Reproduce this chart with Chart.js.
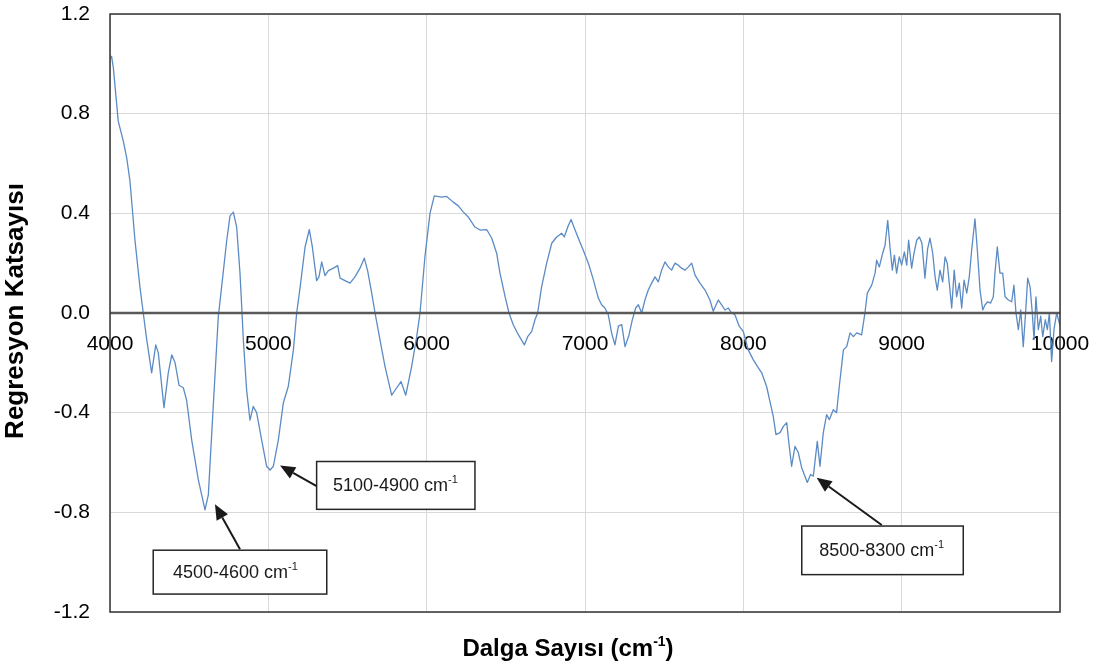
<!DOCTYPE html>
<html>
<head>
<meta charset="utf-8">
<script src="https://cdn.jsdelivr.net/npm/chart.js@4.4.1/dist/chart.umd.min.js"></script>
<style>
  html, body { margin: 0; padding: 0; background: #ffffff; }
  #wrap { width: 1106px; height: 668px; position: relative; }
</style>
</head>
<body>
<div id="wrap"><canvas id="c"></canvas></div>
<script>
// ---- Data ----
const wavenumbers = [
  4000, 4010, 4021, 4052, 4084, 4105, 4126, 4158, 4189, 4210,
  4232, 4263, 4289, 4305, 4341, 4368, 4390, 4411, 4436, 4463,
  4484, 4516, 4558, 4600, 4621, 4652, 4684, 4705, 4737, 4758,
  4779, 4800, 4821, 4832, 4842, 4863, 4884, 4905, 4926, 4958,
  4989, 5011, 5032, 5063, 5095, 5126, 5158, 5179, 5200, 5232,
  5259, 5278, 5305, 5320, 5337, 5358, 5379, 5411, 5438, 5453,
  5484, 5516, 5547, 5579, 5606, 5627, 5653, 5674, 5705, 5737,
  5779, 5800, 5838, 5868, 5905, 5937, 5958, 5989, 6021, 6048,
  6095, 6126, 6168, 6200, 6232, 6263, 6305, 6337, 6379, 6411,
  6442, 6463, 6495, 6520, 6547, 6579, 6617, 6638, 6663, 6684,
  6701, 6726, 6758, 6790, 6821, 6853, 6869, 6891, 6912, 6933,
  6958, 6989, 7021, 7053, 7084, 7105, 7126, 7147, 7168, 7189,
  7211, 7232, 7253, 7278, 7299, 7320, 7337, 7358, 7379, 7400,
  7421, 7442, 7463, 7484, 7505, 7526, 7547, 7568, 7589, 7610,
  7632, 7653, 7674, 7695, 7726, 7758, 7789, 7810, 7842, 7863,
  7884, 7905, 7926, 7947, 7974, 8000, 8031, 8063, 8095, 8116,
  8147, 8168, 8189, 8206, 8232, 8253, 8274, 8290, 8305, 8326,
  8347, 8368, 8389, 8404, 8425, 8442, 8467, 8484, 8505, 8526,
  8543, 8568, 8589, 8606, 8632, 8653, 8674, 8695, 8716, 8747,
  8768, 8783, 8811, 8832, 8842, 8859, 8880, 8895, 8912, 8926,
  8941, 8954, 8968, 8985, 9000, 9017, 9032, 9044, 9063, 9078,
  9095, 9112, 9128, 9147, 9164, 9179, 9196, 9211, 9225, 9242,
  9259, 9274, 9288, 9305, 9316, 9332, 9347, 9364, 9379, 9394,
  9411, 9427, 9442, 9463, 9478, 9495, 9512, 9526, 9543, 9562,
  9579, 9589, 9604, 9621, 9638, 9653, 9674, 9695, 9709, 9722,
  9737, 9752, 9768, 9783, 9796, 9811, 9825, 9836, 9848, 9863,
  9878, 9891, 9907, 9920, 9933, 9947, 9962, 9979, 10000
];
const coefficients = [
  1.02, 1.03, 0.985, 0.77, 0.69, 0.625, 0.53, 0.29, 0.105, 0.0,
  -0.107, -0.24, -0.128, -0.16, -0.38, -0.24, -0.168, -0.2, -0.29, -0.3,
  -0.35, -0.51, -0.67, -0.79, -0.73, -0.375, -0.015, 0.105, 0.29, 0.39,
  0.405, 0.345, 0.16, 0.025, -0.107, -0.31, -0.43, -0.375, -0.4, -0.51,
  -0.615, -0.63, -0.615, -0.51, -0.36, -0.295, -0.15, 0.0, 0.1, 0.265,
  0.335, 0.265, 0.13, 0.145, 0.205, 0.15, 0.17, 0.18, 0.19, 0.14,
  0.13, 0.12, 0.145, 0.18, 0.22, 0.17, 0.08, 0.0, -0.107, -0.215,
  -0.33, -0.31, -0.275, -0.33, -0.215, -0.095, 0.0, 0.225, 0.4, 0.47,
  0.465, 0.468, 0.445, 0.43, 0.405, 0.385, 0.345, 0.333, 0.335, 0.3,
  0.24, 0.16, 0.067, 0.0, -0.047, -0.087, -0.128, -0.095, -0.075, -0.027,
  0.0, 0.105, 0.2, 0.28, 0.305, 0.32, 0.305, 0.345, 0.375, 0.34,
  0.3, 0.252, 0.2, 0.133, 0.06, 0.033, 0.02, -0.007, -0.08, -0.128,
  -0.053, -0.047, -0.135, -0.088, -0.027, 0.02, 0.033, 0.0, 0.053, 0.093,
  0.12, 0.145, 0.125, 0.172, 0.205, 0.185, 0.172, 0.2, 0.192, 0.18,
  0.172, 0.185, 0.2, 0.152, 0.12, 0.092, 0.052, 0.007, 0.052, 0.033,
  0.012, 0.02, 0.0, -0.007, -0.053, -0.075, -0.148, -0.188, -0.22, -0.24,
  -0.295, -0.355, -0.415, -0.488, -0.48, -0.455, -0.44, -0.535, -0.615, -0.535,
  -0.56, -0.62, -0.655, -0.68, -0.648, -0.655, -0.515, -0.615, -0.48, -0.408,
  -0.428, -0.388, -0.4, -0.295, -0.148, -0.135, -0.08, -0.095, -0.08, -0.088,
  0.0, 0.08, 0.112, 0.16, 0.212, 0.185, 0.24, 0.272, 0.372, 0.265,
  0.172, 0.232, 0.16, 0.225, 0.192, 0.245, 0.192, 0.292, 0.18, 0.24,
  0.292, 0.305, 0.28, 0.14, 0.258, 0.3, 0.24, 0.145, 0.092, 0.172,
  0.125, 0.225, 0.2, 0.092, 0.02, 0.172, 0.065, 0.12, 0.02, 0.132,
  0.08, 0.145, 0.252, 0.378, 0.252, 0.092, 0.012, 0.032, 0.045, 0.04,
  0.065, 0.16, 0.265, 0.16, 0.16, 0.065, 0.052, 0.045, 0.112, 0.0,
  -0.067, 0.012, -0.135, 0.005, 0.14, 0.105, 0.0, -0.107, 0.065, -0.067,
  -0.013, -0.095, -0.027, -0.067, 0.0, -0.195, -0.067, 0.0, -0.05
];
const xTickValues = [4000, 5000, 6000, 7000, 8000, 9000, 10000];
const yTickValues = [-1.2, -0.8, -0.4, 0.0, 0.4, 0.8, 1.2];
const xTitleMain = 'Dalga Sayısı (cm';
const xTitleSup = '-1';
const xTitleEnd = ')';
const yTitle = 'Regresyon Katsayısı';
const annotationLabels = ['4500-4600 cm', '5100-4900 cm', '8500-8300 cm'];
const annotationSup = '-1';

// Annotation geometry in data units (wavenumber, coefficient)
const annotationGeom = [
  { box: [4273, 5369, -0.952, -1.128], textX: 4398, textY: -1.04, tail: [4821, -0.948], tip: [4663, -0.768] },
  { box: [5305, 6305, -0.596, -0.788], textX: 5408, textY: -0.692, tail: [5305, -0.695], tip: [5074, -0.612] },
  { box: [8369, 9389, -0.855, -1.05], textX: 8479, textY: -0.952, tail: [8874, -0.851], tip: [8463, -0.661] }
];

const points = wavenumbers.map((w, i) => ({ x: w, y: coefficients[i] }));

const FONT = '"Liberation Sans", Arial, sans-serif';

const decorPlugin = {
  id: 'decor',
  afterDatasetsDraw(chart) {
    const { ctx, chartArea: a, scales: { x, y } } = chart;
    ctx.save();
    // zero line
    const y0 = y.getPixelForValue(0);
    ctx.strokeStyle = '#595959';
    ctx.lineWidth = 2.5;
    ctx.beginPath();
    ctx.moveTo(a.left, y0);
    ctx.lineTo(a.right, y0);
    ctx.stroke();
    // frame
    ctx.strokeStyle = '#333333';
    ctx.lineWidth = 1.5;
    ctx.strokeRect(a.left, a.top, a.right - a.left, a.bottom - a.top);

    // annotations
    annotationGeom.forEach((g, i) => {
      const bx1 = x.getPixelForValue(g.box[0]);
      const bx2 = x.getPixelForValue(g.box[1]);
      const by1 = y.getPixelForValue(g.box[2]);
      const by2 = y.getPixelForValue(g.box[3]);
      ctx.fillStyle = '#ffffff';
      ctx.fillRect(bx1, by1, bx2 - bx1, by2 - by1);
      ctx.strokeStyle = '#262626';
      ctx.lineWidth = 1.5;
      ctx.strokeRect(bx1, by1, bx2 - bx1, by2 - by1);
      // text
      const tx = x.getPixelForValue(g.textX);
      const ty = y.getPixelForValue(g.textY);
      ctx.fillStyle = '#1a1a1a';
      ctx.textBaseline = 'middle';
      ctx.textAlign = 'left';
      ctx.font = '18px ' + FONT;
      ctx.fillText(annotationLabels[i], tx, ty + 1);
      const w = ctx.measureText(annotationLabels[i]).width;
      ctx.font = '11px ' + FONT;
      ctx.fillText(annotationSup, tx + w, ty - 5);
      // arrow
      const ax1 = x.getPixelForValue(g.tail[0]);
      const ay1 = y.getPixelForValue(g.tail[1]);
      const ax2 = x.getPixelForValue(g.tip[0]);
      const ay2 = y.getPixelForValue(g.tip[1]);
      const ang = Math.atan2(ay2 - ay1, ax2 - ax1);
      const headLen = 15, headW = 6.5;
      const bxh = ax2 - headLen * Math.cos(ang);
      const byh = ay2 - headLen * Math.sin(ang);
      ctx.strokeStyle = '#1a1a1a';
      ctx.lineWidth = 2;
      ctx.beginPath();
      ctx.moveTo(ax1, ay1);
      ctx.lineTo(bxh, byh);
      ctx.stroke();
      ctx.fillStyle = '#1a1a1a';
      ctx.beginPath();
      ctx.moveTo(ax2, ay2);
      ctx.lineTo(bxh + headW * Math.sin(ang), byh - headW * Math.cos(ang));
      ctx.lineTo(bxh - headW * Math.sin(ang), byh + headW * Math.cos(ang));
      ctx.closePath();
      ctx.fill();
    });

    // x axis title
    ctx.fillStyle = '#000000';
    ctx.textBaseline = 'alphabetic';
    ctx.textAlign = 'left';
    ctx.font = 'bold 24px ' + FONT;
    const m1 = ctx.measureText(xTitleMain).width;
    ctx.font = 'bold 14px ' + FONT;
    const m2 = ctx.measureText(xTitleSup).width;
    ctx.font = 'bold 24px ' + FONT;
    const m3 = ctx.measureText(xTitleEnd).width;
    const total = m1 + m2 + m3;
    let sx = 568 - total / 2;
    const base = 656;
    ctx.fillText(xTitleMain, sx, base);
    ctx.font = 'bold 14px ' + FONT;
    ctx.fillText(xTitleSup, sx + m1, base - 10);
    ctx.font = 'bold 24px ' + FONT;
    ctx.fillText(xTitleEnd, sx + m1 + m2, base);

    // y axis title
    ctx.translate(16, 311);
    ctx.rotate(-Math.PI / 2);
    ctx.textAlign = 'center';
    ctx.textBaseline = 'middle';
    ctx.font = 'bold 26px ' + FONT;
    ctx.fillText(yTitle, 0, 0);
    ctx.restore();
  }
};

new Chart(document.getElementById('c'), {
  type: 'line',
  data: {
    datasets: [{
      data: points,
      borderColor: '#5b8bc4',
      borderWidth: 1.3,
      borderJoinStyle: 'round',
      pointRadius: 0,
      tension: 0,
      fill: false
    }]
  },
  options: {
    responsive: true,
    maintainAspectRatio: false,
    animation: false,
    layout: { padding: { left: 0, top: 14, right: 46, bottom: 56 } },
    plugins: { legend: { display: false }, tooltip: { enabled: false } },
    scales: {
      x: {
        type: 'linear',
        position: { y: 0 },
        min: 4000,
        max: 10000,
        afterBuildTicks: (s) => { s.ticks = xTickValues.map(v => ({ value: v })); },
        afterFit: (s) => { s.paddingLeft = 0; s.paddingRight = 0; },
        ticks: {
          color: '#000000',
          font: { family: FONT, size: 21 },
          padding: 19,
          maxRotation: 0,
          autoSkip: false,
          callback: (v) => String(v)
        },
        grid: { color: '#d9d9d9', lineWidth: 1, drawTicks: false },
        border: { display: false }
      },
      y: {
        type: 'linear',
        min: -1.2,
        max: 1.2,
        afterBuildTicks: (s) => { s.ticks = yTickValues.map(v => ({ value: v })); },
        afterFit: (s) => { s.width = 110; s.paddingTop = 0; s.paddingBottom = 0; },
        ticks: {
          color: '#000000',
          font: { family: FONT, size: 21 },
          padding: 20,
          callback: (v) => Number(v).toFixed(1)
        },
        grid: {
          color: (c) => (Math.abs(c.tick.value) < 1e-9 ? 'rgba(0,0,0,0)' : '#d9d9d9'),
          lineWidth: 1,
          drawTicks: false
        },
        border: { display: false }
      }
    }
  },
  plugins: [decorPlugin]
});
</script>
</body>
</html>
